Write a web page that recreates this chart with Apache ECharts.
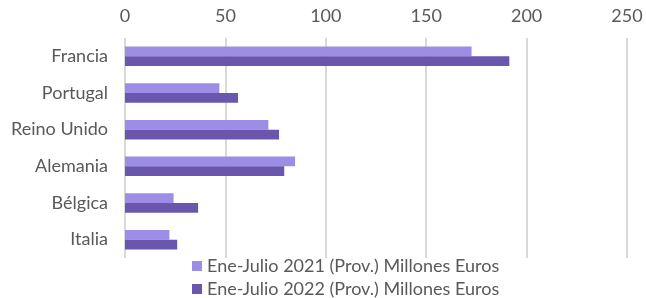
<!DOCTYPE html>
<html>
<head>
<meta charset="utf-8">
<script src="https://cdn.jsdelivr.net/npm/echarts@6/dist/echarts.min.js"></script>
<style>
  html, body { margin: 0; padding: 0; background: #fff; }
  #chart { width: 646px; height: 298px; }
</style>
</head>
<body>
<div id="chart"></div>
<script>
var paises = ['Francia', 'Portugal', 'Reino Unido', 'Alemania', 'Bélgica', 'Italia'];
var valores2021 = [172.6, 47, 71.4, 84.7, 24.2, 22.1];
var valores2022 = [191.4, 56.3, 76.7, 79.3, 36.4, 26];
var nombre2021 = 'Ene-Julio 2021 (Prov.) Millones Euros';
var nombre2022 = 'Ene-Julio 2022 (Prov.) Millones Euros';

var fuente = 'Lato';
var gris = '#595959';

function leyenda(nombre, top) {
    return {
        left: 187,
        top: top,
        itemWidth: 10,
        itemHeight: 10,
        icon: 'rect',
        textStyle: { fontSize: 18, color: gris, fontFamily: fuente },
        data: [nombre]
    };
}

var chart = echarts.init(document.getElementById('chart'));
chart.setOption({
    animation: false,
    textStyle: { fontFamily: fuente },
    color: ['#9d8de6', '#6a56ac'],
    grid: { left: 125, right: 19, top: 38, bottom: 40, containLabel: false },
    legend: [leyenda(nombre2021, 252), leyenda(nombre2022, 275)],
    xAxis: {
        type: 'value',
        position: 'top',
        min: 0,
        max: 250,
        interval: 50,
        axisLine: { show: false },
        axisTick: { show: false },
        axisLabel: { fontSize: 18, color: gris, margin: 13 },
        splitLine: { lineStyle: { color: '#d9d9d9', width: 2 } }
    },
    yAxis: {
        type: 'category',
        inverse: true,
        data: paises,
        axisLine: { show: false },
        axisTick: { show: false },
        axisLabel: { fontSize: 18, color: gris, margin: 17 }
    },
    series: [
        { name: nombre2021, type: 'bar', data: valores2021, barGap: '0%', barCategoryGap: '47%' },
        { name: nombre2022, type: 'bar', data: valores2022, barGap: '0%', barCategoryGap: '47%' }
    ]
});
</script>
</body>
</html>
